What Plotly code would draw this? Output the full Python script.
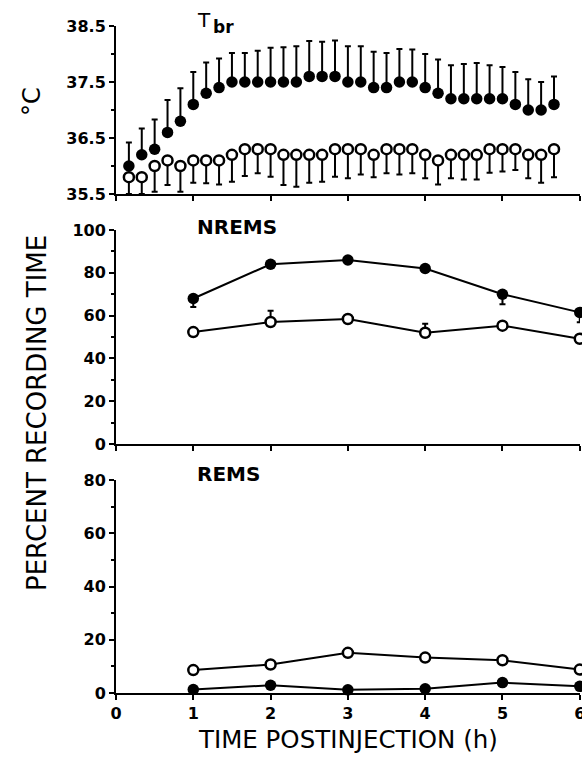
import plotly.graph_objects as go

# ---------------- data ----------------
# Brain temperature (10-min bins, minutes post-injection)
tbr_minutes = [10, 20, 30, 40, 50, 60, 70, 80, 90, 100, 110, 120, 130, 140, 150, 160, 170,
               180, 190, 200, 210, 220, 230, 240, 250, 260, 270, 280, 290, 300, 310, 320, 330, 340]
tbr_treated = [36.0, 36.2, 36.3, 36.6, 36.8, 37.1, 37.3, 37.4, 37.5, 37.5, 37.5, 37.5, 37.5, 37.5,
               37.6, 37.6, 37.6, 37.5, 37.5, 37.4, 37.4, 37.5, 37.5, 37.4, 37.3, 37.2, 37.2, 37.2,
               37.2, 37.2, 37.1, 37.0, 37.0, 37.1]
tbr_treated_se = [0.42, 0.47, 0.53, 0.58, 0.59, 0.58, 0.55, 0.52, 0.52, 0.52, 0.56, 0.61, 0.62, 0.64,
                  0.63, 0.62, 0.64, 0.64, 0.64, 0.64, 0.62, 0.59, 0.58, 0.60, 0.60, 0.60, 0.62, 0.64,
                  0.60, 0.57, 0.58, 0.55, 0.50, 0.50]
tbr_control = [35.8, 35.8, 36.0, 36.1, 36.0, 36.1, 36.1, 36.1, 36.2, 36.3, 36.3, 36.3, 36.2, 36.2,
               36.2, 36.2, 36.3, 36.3, 36.3, 36.2, 36.3, 36.3, 36.3, 36.2, 36.1, 36.2, 36.2, 36.2,
               36.3, 36.3, 36.3, 36.2, 36.2, 36.3]
tbr_control_se = [0.30, 0.30, 0.46, 0.44, 0.46, 0.40, 0.41, 0.43, 0.48, 0.48, 0.43, 0.49, 0.54, 0.57,
                  0.50, 0.48, 0.49, 0.52, 0.45, 0.40, 0.43, 0.45, 0.43, 0.42, 0.43, 0.42, 0.44, 0.44,
                  0.42, 0.40, 0.37, 0.42, 0.50, 0.50]

hours = [1, 2, 3, 4, 5, 6]
nrems_treated = [68, 84, 86, 82, 70, 61.5]
nrems_treated_se = [4.0, 1.5, 1.5, 1.5, 4.7, 4.6]
nrems_control = [52.3, 57, 58.4, 52, 55.3, 49.2]
nrems_control_se = [1.5, 5.3, 1.5, 4.2, 1.5, 1.5]

rems_treated = [1.3, 2.9, 1.2, 1.6, 3.9, 2.5]
rems_control = [8.6, 10.7, 15.1, 13.3, 12.3, 8.8]

x_tick_values = [0, 1, 2, 3, 4, 5, 6]
x_tick_labels = ["0", "1", "2", "3", "4", "5", "6"]

# ---------------- layout helpers ----------------
# The page body margin is removed (post_script), so figure pixels == window pixels.
W, H = 582, 759
ML, MR, MT = 116, 2, 26
MB = H - 693
PW, PH = W - ML - MR, H - MT - MB


def px_x(px):
    """window x-pixel -> paper coordinate"""
    return (px - ML) / PW


def px_y(py):
    """window y-pixel -> paper coordinate"""
    return (H - MB - py) / PH


FONT = "DejaVu Sans"
BLACK = "#000000"

tbr_hours = [m / 60 for m in tbr_minutes]
zeros_t = [0] * len(tbr_minutes)
zeros_h = [0] * len(hours)

fig = go.Figure()

# ---- top panel: Tbr ----
fig.add_trace(go.Scatter(
    x=tbr_hours, y=tbr_treated, mode="markers", xaxis="x", yaxis="y",
    marker=dict(size=11.5, color=BLACK, line=dict(width=0)),
    error_y=dict(type="data", symmetric=False, array=tbr_treated_se, arrayminus=zeros_t,
                 color=BLACK, thickness=2, width=3),
    cliponaxis=False, showlegend=False))
fig.add_trace(go.Scatter(
    x=tbr_hours, y=tbr_control, mode="markers", xaxis="x", yaxis="y",
    marker=dict(size=10, color="white", line=dict(width=2.5, color=BLACK)),
    error_y=dict(type="data", symmetric=False, array=zeros_t, arrayminus=tbr_control_se,
                 color=BLACK, thickness=2, width=3),
    cliponaxis=False, showlegend=False))

# ---- middle panel: NREMS ----
fig.add_trace(go.Scatter(
    x=hours, y=nrems_treated, mode="lines+markers", xaxis="x2", yaxis="y2",
    line=dict(color=BLACK, width=2),
    marker=dict(size=11.5, color=BLACK, line=dict(width=0)),
    error_y=dict(type="data", symmetric=False, array=zeros_h, arrayminus=nrems_treated_se,
                 color=BLACK, thickness=2, width=3),
    cliponaxis=False, showlegend=False))
fig.add_trace(go.Scatter(
    x=hours, y=nrems_control, mode="lines+markers", xaxis="x2", yaxis="y2",
    line=dict(color=BLACK, width=2),
    marker=dict(size=10, color="white", line=dict(width=2.5, color=BLACK)),
    error_y=dict(type="data", symmetric=False, array=nrems_control_se, arrayminus=zeros_h,
                 color=BLACK, thickness=2, width=3),
    cliponaxis=False, showlegend=False))

# ---- bottom panel: REMS ----
fig.add_trace(go.Scatter(
    x=hours, y=rems_control, mode="lines+markers", xaxis="x3", yaxis="y3",
    line=dict(color=BLACK, width=2),
    marker=dict(size=10, color="white", line=dict(width=2.5, color=BLACK)),
    cliponaxis=False, showlegend=False))
fig.add_trace(go.Scatter(
    x=hours, y=rems_treated, mode="lines+markers", xaxis="x3", yaxis="y3",
    line=dict(color=BLACK, width=2),
    marker=dict(size=11.5, color=BLACK, line=dict(width=0)),
    cliponaxis=False, showlegend=False))

tickfont = dict(family=FONT, size=16, color=BLACK, weight="bold")

common_x = dict(range=[0, 6.003], tickmode="array", tickvals=x_tick_values, ticktext=x_tick_labels,
                ticks="outside", ticklen=5, tickwidth=2, tickcolor=BLACK,
                showline=True, linewidth=2, linecolor=BLACK, showgrid=False, zeroline=False,
                tickfont=tickfont, fixedrange=True, ticklabeloverflow="allow", automargin=False)
common_y = dict(ticks="outside", ticklen=5, tickwidth=2, tickcolor=BLACK,
                showline=True, linewidth=2, linecolor=BLACK, showgrid=False, zeroline=False,
                tickfont=tickfont, fixedrange=True, ticklabelstandoff=0, automargin=False)

fig.update_layout(
    template="none",
    width=W, height=H,
    margin=dict(l=ML, r=MR, t=MT, b=MB, pad=0, autoexpand=False),
    paper_bgcolor="white", plot_bgcolor="white",
    showlegend=False,
    xaxis=dict(common_x, domain=[0, 1], anchor="y", showticklabels=False),
    yaxis=dict(common_y, domain=[px_y(194), px_y(26)], anchor="x", range=[35.5, 38.5],
               tick0=35.5, dtick=1, tickformat=".1f",
               minor=dict(dtick=0.5, tick0=35.5, ticks="outside", ticklen=3, tickwidth=1.5,
                          tickcolor=BLACK, showgrid=False)),
    xaxis2=dict(common_x, domain=[0, 1], anchor="y2", showticklabels=False),
    yaxis2=dict(common_y, domain=[px_y(444), px_y(230)], anchor="x2", range=[0, 100],
                tick0=0, dtick=20,
                minor=dict(dtick=10, ticks="outside", ticklen=3, tickwidth=1.5, tickcolor=BLACK,
                           showgrid=False)),
    xaxis3=dict(common_x, domain=[0, 1], anchor="y3", showticklabels=True),
    yaxis3=dict(common_y, domain=[0, px_y(480)], anchor="x3", range=[0, 80],
                tick0=0, dtick=20,
                minor=dict(dtick=10, ticks="outside", ticklen=3, tickwidth=1.5, tickcolor=BLACK,
                           showgrid=False)),
)

ann = []
ann.append(dict(text="T", x=px_x(195), y=px_y(20), xanchor="left", yanchor="middle",
                font=dict(family=FONT, size=20, color=BLACK)))
ann.append(dict(text="br", x=px_x(211), y=px_y(27), xanchor="left", yanchor="middle",
                font=dict(family=FONT, size=17, color=BLACK, weight="bold")))
ann.append(dict(text="NREMS", x=px_x(195), y=px_y(227), xanchor="left", yanchor="middle",
                font=dict(family=FONT, size=20, color=BLACK, weight="bold")))
ann.append(dict(text="REMS", x=px_x(195), y=px_y(474), xanchor="left", yanchor="middle",
                font=dict(family=FONT, size=20, color=BLACK, weight="bold")))
ann.append(dict(text="°C", x=px_x(32), y=px_y(102), xanchor="center", yanchor="middle",
                textangle=-90, font=dict(family=FONT, size=24, color=BLACK)))
ann.append(dict(text="PERCENT RECORDING TIME", x=px_x(37), y=px_y(413), xanchor="center",
                yanchor="middle", textangle=-90, font=dict(family=FONT, size=26, color=BLACK)))
ann.append(dict(text="TIME POSTINJECTION (h)", x=px_x(348), y=px_y(739), xanchor="center",
                yanchor="middle", font=dict(family=FONT, size=24.5, color=BLACK)))
for a in ann:
    a.update(xref="paper", yref="paper", showarrow=False)
fig.update_layout(annotations=ann)

fig.write_html(
    "out.html",
    config={"displayModeBar": False},
    post_script="document.body.style.margin='0px';document.body.style.overflow='hidden';"
                "document.documentElement.style.overflow='hidden';",
)
